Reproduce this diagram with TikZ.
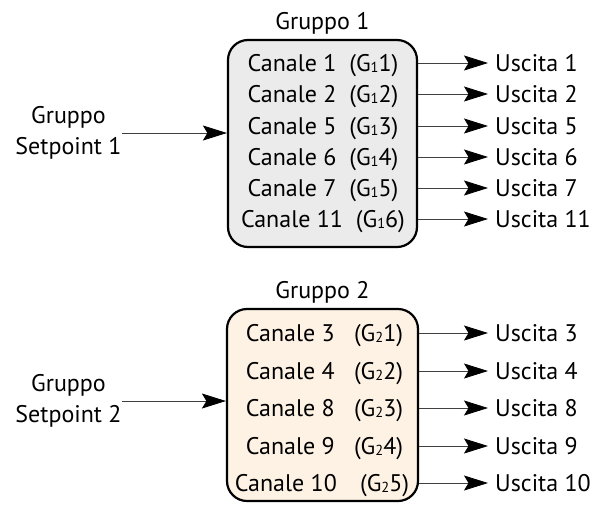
\documentclass[tikz,border=0pt]{standalone}
\usepackage{fontspec}
\setmainfont{PT Sans}
\usetikzlibrary{arrows.meta, positioning}
\definecolor{grpgray}{HTML}{EBEBEB}
\definecolor{grpcream}{HTML}{FDF2E4}
\newcommand{\gch}[2]{(G\raisebox{-1pt}{\fontsize{14.5}{14.5}\selectfont #1}#2)}

\begin{document}
\begin{tikzpicture}[
    x=1pt, y=-1pt,
    font=\fontsize{24}{31}\selectfont,
    group/.style={rectangle, rounded corners=20pt, draw=black, line width=2.2pt, inner sep=0pt},
    title/.style={inner sep=0pt},
    chan/.style={inner sep=0pt, text depth=0pt},
    uscita/.style={anchor=west, inner xsep=7pt, inner ysep=0pt, text depth=0pt},
    input/.style={inner sep=0pt, align=center},
    arrow/.style={line width=0.8pt, draw=black!75, -{Stealth[length=24pt, width=15pt, inset=4.5pt, color=black, fill=black]}}
]
    \useasboundingbox (0,0) rectangle (594,512);

    % Gruppo 1
    \node (grp1) [group, fill=grpgray, minimum width=189pt, minimum height=207pt] at (322.5,143.5) {};
    \node (title1) [title, above=4pt of grp1] {Gruppo 1};
    \node (c11) [chan] at (323,63) {Canale 1~~\gch{1}{1}};
    \node (c12) [chan] at (323,94) {Canale 2~~\gch{1}{2}};
    \node (c13) [chan] at (323,126) {Canale 5~~\gch{1}{3}};
    \node (c14) [chan] at (323,157) {Canale 6~~\gch{1}{4}};
    \node (c15) [chan] at (323,188) {Canale 7~~\gch{1}{5}};
    \node (c16) [chan] at (323,219) {Canale 11~~\gch{1}{6}};

    \node (o11) [uscita] at (488,63) {Uscita 1};
    \node (o12) [uscita] at (488,94) {Uscita 2};
    \node (o13) [uscita] at (488,126) {Uscita 5};
    \node (o14) [uscita] at (488,157) {Uscita 6};
    \node (o15) [uscita] at (488,188) {Uscita 7};
    \node (o16) [uscita] at (488,219) {Uscita 11};

    \draw [arrow] (grp1.east |- o11) -- (o11);
    \draw [arrow] (grp1.east |- o12) -- (o12);
    \draw [arrow] (grp1.east |- o13) -- (o13);
    \draw [arrow] (grp1.east |- o14) -- (o14);
    \draw [arrow] (grp1.east |- o15) -- (o15);
    \draw [arrow] (grp1.east |- o16) -- (o16);

    \node (sp1) [input] at (68.5,133) {Gruppo\\Setpoint 1};
    \draw [arrow] (sp1.east) -- (sp1.east -| grp1.west);

    % Gruppo 2
    \node (grp2) [group, fill=grpcream, minimum width=191pt, minimum height=192pt] at (322.5,405) {};
    \node (title2) [title, above=4pt of grp2] {Gruppo 2};
    \node (c21) [chan] at (324.5,333) {Canale 3~~~\gch{2}{1}};
    \node (c22) [chan] at (324.5,371) {Canale 4~~~\gch{2}{2}};
    \node (c23) [chan] at (324.5,408) {Canale 8~~~\gch{2}{3}};
    \node (c24) [chan] at (324.5,446) {Canale 9~~~\gch{2}{4}};
    \node (c25) [chan] at (322,483) {Canale 10~~~\,\gch{2}{5}};

    \node (o21) [uscita] at (488,333) {Uscita 3};
    \node (o22) [uscita] at (488,371) {Uscita 4};
    \node (o23) [uscita] at (488,408) {Uscita 8};
    \node (o24) [uscita] at (488,446) {Uscita 9};
    \node (o25) [uscita] at (488,483) {Uscita 10};

    \draw [arrow] (grp2.east |- o21) -- (o21);
    \draw [arrow] (grp2.east |- o22) -- (o22);
    \draw [arrow] (grp2.east |- o23) -- (o23);
    \draw [arrow] (grp2.east |- o24) -- (o24);
    \draw [arrow] (grp2.east |- o25) -- (o25);

    \node (sp2) [input] at (68.5,401) {Gruppo\\Setpoint 2};
    \draw [arrow] (sp2.east) -- (sp2.east -| grp2.west);
\end{tikzpicture}
\end{document}
